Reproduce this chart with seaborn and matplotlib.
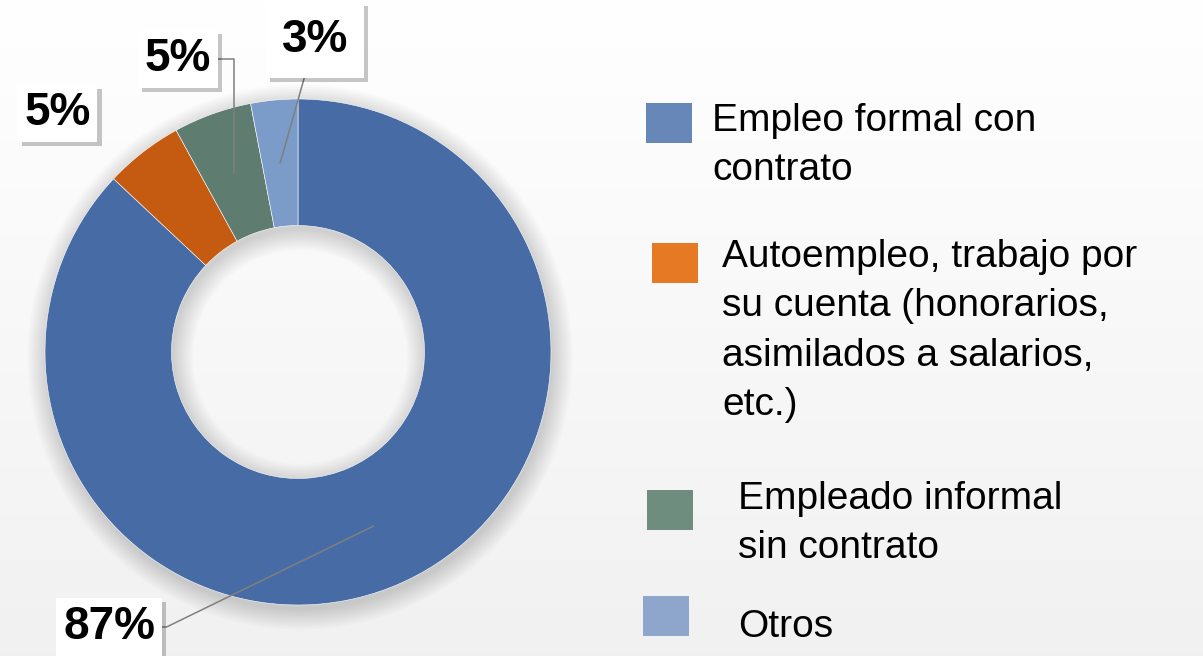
import numpy as np
import matplotlib
matplotlib.use("Agg")
import matplotlib.pyplot as plt
import matplotlib.patheffects as pe
from matplotlib.patches import Rectangle, Wedge
import seaborn as sns

# data
categories = ["Empleo formal con\ncontrato",
              "Autoempleo, trabajo por\nsu cuenta (honorarios,\nasimilados a salarios,\netc.)",
              "Empleado informal\nsin contrato",
              "Otros"]
shares = [87, 5, 5, 3]
pct_labels = ["87%", "5%", "5%", "3%"]
wedge_colors = ["#476ca5", "#c55a11", "#5e7d70", "#7b9cc8"]
legend_colors = ["#6787b8", "#e67a24", "#6e8d7f", "#8fa6cc"]

sns.set_theme(style="white")
plt.rcParams["font.family"] = ["Liberation Sans", "DejaVu Sans"]

W, H = 1203, 656
fig = plt.figure(figsize=(W / 100, H / 100), dpi=100)

# soft grey gradient behind everything
bg = fig.add_axes([0, 0, 1, 1], zorder=-10)
grad = np.linspace(1.0, 0.945, 256).reshape(-1, 1)
bg.imshow(np.dstack([grad] * 3), aspect="auto", extent=[0, 1, 0, 1], origin="upper")
bg.axis("off")

# donut axes: centre at (298, 304) px from bottom-left, radius 253 px
cx, cy, r = 298, 304, 253
ax = fig.add_axes([0, 0, 600 / W, 1])
ax.patch.set_alpha(0)

# blurred shadow of the ring
for k in range(14):
    ro = 1.0 + 0.006 * k
    ri = 0.5 - 0.006 * k
    ax.add_patch(Wedge((0.008, -0.02), ro, 0, 360, width=ro - ri,
                       facecolor="black", alpha=0.013, lw=0, zorder=0))

wedges, _ = ax.pie(shares, colors=wedge_colors, startangle=90, counterclock=False,
                   radius=1, wedgeprops=dict(width=0.5, edgecolor="white", linewidth=0.4))

ax.set_xlim(-cx / r, (600 - cx) / r)
ax.set_ylim(-cy / r, (H - cy) / r)
ax.set_aspect("auto")
ax.axis("off")

# data labels
label_pos = [(-0.747, -1.087), (-0.951, 0.943), (-0.474, 1.158), (0.067, 1.233)]
box_pad = [0.15, 0.15, 0.15, 0.35]
leader = ["angle,angleA=0,angleB=26", None, "angle,angleA=0,angleB=90", "arc3,rad=0"]

for w, lab, pos, pad, conn in zip(wedges, pct_labels, label_pos, box_pad, leader):
    mid = np.deg2rad((w.theta1 + w.theta2) / 2)
    pt = (0.75 * np.cos(mid), 0.75 * np.sin(mid))
    bbox = dict(boxstyle=f"square,pad={pad}", facecolor="white", edgecolor="none")
    if conn is None:
        t = ax.text(pos[0], pos[1], lab, ha="center", va="center", fontsize=33,
                    fontweight="bold", color="black", bbox=bbox, zorder=4)
    else:
        t = ax.annotate(lab, xy=pt, xytext=pos, ha="center", va="center", fontsize=33,
                        fontweight="bold", color="black", bbox=bbox, zorder=4,
                        arrowprops=dict(arrowstyle="-", color="#7f7f7f", lw=1.1,
                                        connectionstyle=conn, shrinkA=0, shrinkB=0))
    t.get_bbox_patch().set_path_effects([
        pe.SimplePatchShadow(offset=(3, -3), shadow_rgbFace="black", alpha=0.22),
        pe.Normal()])

# legend drawn by hand to keep the uneven spacing of the original
leg_sq = [(646, 103), (652, 243), (647, 490), (643, 596)]
leg_txt = [(712, 103), (722, 239), (738, 481), (738, 609)]
for lab, col, (sx, sy), (tx, ty) in zip(categories, legend_colors, leg_sq, leg_txt):
    fig.patches.append(Rectangle((sx / W, 1 - (sy + 40) / H), 46 / W, 40 / H,
                                 transform=fig.transFigure, facecolor=col,
                                 edgecolor="none"))
    fig.text(tx / W, 1 - ty / H, lab, ha="left", va="top", fontsize=28,
             color="black", linespacing=1.48)

fig.savefig("out.png", dpi=100)
